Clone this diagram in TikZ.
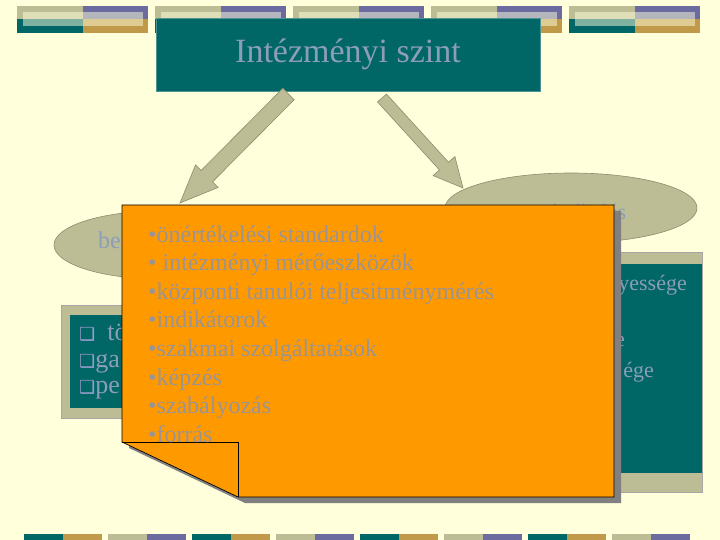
\documentclass[tikz,border=0pt]{standalone}
\usepackage{fontspec}
\setmainfont{Liberation Serif}
\newfontfamily\dejavu{DejaVu Sans}
\usetikzlibrary{shapes.geometric}
\definecolor{bgc}{HTML}{FFFFDC}
\definecolor{khaki}{HTML}{BDBD95}
\definecolor{purp}{HTML}{6B6BA0}
\definecolor{tealc}{HTML}{006666}
\definecolor{goldc}{HTML}{C09A48}
\definecolor{edgec}{HTML}{8C8C70}
\definecolor{txtc}{HTML}{8C9DB8}
\definecolor{otxt}{HTML}{9A9494}
\definecolor{orng}{HTML}{FF9900}
\definecolor{shad}{HTML}{808080}
\definecolor{chk}{HTML}{9C9CCC}
\newcommand{\chkmark}{{\dejavu\fontsize{18}{22}\selectfont\textcolor{chk}{❑}}}
\tikzset{
  blockarrow/.style={fill=khaki, draw=edgec, line width=0.6pt},
  oval/.style={ellipse, fill=khaki, draw=edgec, line width=0.6pt, inner sep=0pt},
  ovaltext/.style={inner sep=0pt, text=txtc, anchor=base, font=\fontsize{24}{28}\selectfont},
  otext/.style={anchor=base west, inner sep=0pt, text=otxt, font=\fontsize{24}{28}\selectfont},
  ttext/.style={inner sep=0pt, text=txtc, font=\fontsize{26}{30}\selectfont}
}
\begin{document}
\begin{tikzpicture}[x=1pt,y=-1pt]
\fill[bgc] (0,0) rectangle (720,540);
\useasboundingbox (0,0) rectangle (720,540);
% top tiles
\foreach \k in {0,...,4}{
  \begin{scope}[shift={(17+138*\k,6)}]
    \fill[khaki] (0,0) rectangle (65.7,13.3);
    \fill[purp] (65.7,0) rectangle (131,13.3);
    \fill[tealc] (0,13.3) rectangle (65.7,26.7);
    \fill[goldc] (65.7,13.3) rectangle (131,26.7);
    \fill[bgc,opacity=0.5] (6.3,5.7) rectangle (125.7,20);
  \end{scope}
}
% bottom tiles
\foreach \k in {0,2,4,6}{
  \fill[tealc] (24+84*\k,534) rectangle (63+84*\k,540);
  \fill[goldc] (63+84*\k,534) rectangle (102+84*\k,540);
}
\foreach \k in {1,3,5,7}{
  \fill[khaki] (24+84*\k,534) rectangle (63+84*\k,540);
  \fill[purp] (63+84*\k,534) rectangle (102+84*\k,540);
}
% title
\node[fill=tealc, draw=tealc!70!white, line width=0.6pt, minimum width=384pt, minimum height=73pt, inner sep=0pt,
      text=txtc, font=\fontsize{34}{40}\selectfont] (title) at (348,54.5) {Intézményi szint};
% arrows
\draw[blockarrow] (282.8,88.3) -- (201.2,170.4) -- (195.6,164.8) -- (180,203) -- (218.2,187.4) -- (212.6,181.8) -- (294.2,99.7) -- cycle;
\draw[blockarrow] (377.5,101.9) -- (439.5,170.0) -- (433.1,175.6) -- (463,188) -- (454.9,156.6) -- (448.5,162.2) -- (386.5,94.1) -- cycle;
% ellipses
\node[oval, minimum width=212pt, minimum height=68pt] (left) at (160,245) {};
\node[ovaltext, anchor=base west] (lefttext) at (98,248) {be};
\node[oval, minimum width=252pt, minimum height=70pt] (right) at (571,208) {};
\node[ovaltext, font=\fontsize{22}{26}\selectfont] (righttext) at (576,220) {önértékelés};
% left box
\filldraw[fill=khaki, draw=shad!70, line width=0.5pt] (61,305) rectangle (300,418);
\fill[tealc] (70,315) rectangle (290,408);
\node[ttext, anchor=base west] (l1) at (79,340) {\chkmark\hspace{12pt}tö};
\node[ttext, anchor=base west] (l2) at (79,367) {\chkmark ga};
\node[ttext, anchor=base west] (l3) at (79,393) {\chkmark pe};
% right box
\filldraw[fill=khaki, draw=shad!70, line width=0.5pt] (470,252) rectangle (702,492);
\fill[tealc] (470,264) rectangle (702,473);
\node[ttext, anchor=base east, font=\fontsize{22}{26}\selectfont] (r1) at (687,290) {yessége};
\node[ttext, anchor=base east, font=\fontsize{22}{26}\selectfont] (r2) at (625,346) {e};
\node[ttext, anchor=base east, font=\fontsize{22}{26}\selectfont] (r3) at (654,377) {ége};
% orange note
\fill[shad] (129,211) -- (621,211) -- (621,503) -- (245,503) -- (129,448) -- cycle;
\filldraw[fill=orng, draw=black, line width=0.7pt] (122,205) -- (614,205) -- (614,497) -- (238,497) -- (122,442) -- cycle;
\draw[black, line width=0.7pt] (122,442) -- (238,442) -- (238,497);
\node[otext] (o1) at (148,242) {•önértékelési standardok};
\node[otext] (o2) at (148,270.6) {• intézményi mérőeszközök};
\node[otext] (o3) at (148,299.2) {•központi tanulói teljesitménymérés};
\node[otext] (o4) at (148,327.8) {•indikátorok};
\node[otext] (o5) at (148,356.4) {•szakmai szolgáltatások};
\node[otext] (o6) at (148,385) {•képzés};
\node[otext] (o7) at (148,413.6) {•szabályozás};
\node[otext] (o8) at (148,442.2) {•forrás};
\end{tikzpicture}
\end{document}
